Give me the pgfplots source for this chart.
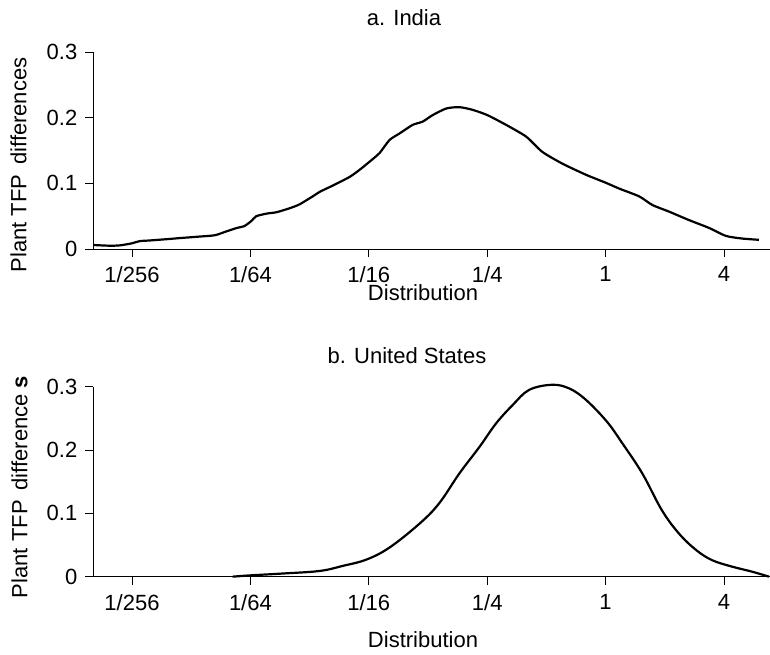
\documentclass[border=0pt]{standalone}
\usepackage{pgfplots}
\pgfplotsset{compat=1.18}
\usepackage{fontspec}
\setmainfont{Liberation Sans}
\pgfplotsset{
  panel/.style={
    scale only axis, width=338.5pt, anchor=south west,
    xmin=-8.659, xmax=2.777, ymin=0, ymax=0.3,
    axis lines*=left, axis line style={line width=0.5pt},
    tick align=outside, major tick length=4pt,
    tick style={line width=0.5pt, black},
    xtick={-8,-6,-4,-2,0,2}, xticklabels={1/256,1/64,1/16,1/4,1,4},
    ytick={0,0.1,0.2,0.3}, yticklabels={0,0.1,0.2,0.3},
    scaled y ticks=false, clip=false,
    xticklabel style={yshift=-1pt},
  }
}
\begin{document}
\fontsize{11}{13}\selectfont
\begin{tikzpicture}[font=\fontsize{11}{13}\selectfont]
\path[use as bounding box] (0,0) rectangle (385pt,-327pt);
\begin{axis}[panel, at={(46.5pt,-124.5pt)}, height=98.5pt]
\addplot[black, line width=1.1pt, smooth, tension=0.4] coordinates {
(-8.64,0.006) (-8.37,0.005) (-8.2,0.0056) (-8.0,0.0087) (-7.87,0.012) (-7.7,0.013)
(-7.41,0.015) (-7.14,0.017) (-6.85,0.019) (-6.6,0.021) (-6.4,0.027) (-6.23,0.032)
(-6.1,0.035) (-5.98,0.043) (-5.9,0.050) (-5.72,0.054) (-5.56,0.056) (-5.34,0.062)
(-5.17,0.068) (-4.95,0.080) (-4.83,0.087) (-4.6,0.097) (-4.32,0.110) (-4.15,0.121)
(-4.0,0.132) (-3.82,0.146) (-3.65,0.166) (-3.48,0.176) (-3.26,0.189) (-3.09,0.194)
(-2.92,0.204) (-2.69,0.214) (-2.47,0.216) (-2.25,0.212) (-2.0,0.204) (-1.68,0.189)
(-1.34,0.171) (-1.07,0.148) (-0.73,0.130) (-0.33,0.113) (0,0.101) (0.23,0.092)
(0.57,0.080) (0.79,0.067) (1.07,0.057) (1.41,0.044) (1.75,0.032) (2.03,0.020)
(2.3,0.016) (2.59,0.014)
};
\end{axis}
\begin{axis}[panel, at={(46.5pt,-288.33pt)}, height=95pt]
\addplot[black, line width=1.1pt, smooth, tension=0.6] coordinates {
(-6.30,0.000) (-6.01,0.002) (-5.45,0.005) (-4.83,0.009) (-4.44,0.017) (-4.04,0.027)
(-3.65,0.046) (-3.14,0.084) (-2.81,0.116) (-2.47,0.163) (-2.13,0.205)
(-1.85,0.242) (-1.57,0.271) (-1.29,0.295) (-0.9,0.303) (-0.61,0.297) (-0.33,0.279)
(0.02,0.245) (0.28,0.211) (0.62,0.163) (0.95,0.105) (1.24,0.068) (1.53,0.042)
(1.8,0.026) (2.13,0.016) (2.47,0.008) (2.76,0.0)
};
\end{axis}
\node at (202pt,-9pt) {a. India};
\node at (203.5pt,-178pt) {b. United States};
\node at (211.5pt,-146.5pt) {Distribution};
\node at (211.5pt,-320pt) {Distribution};
\node[rotate=90] at (9.25pt,-82.5pt) {Plant TFP\, differences};
\node[rotate=90] at (9.75pt,-243.5pt) {Plant TFP\, difference \textbf{s}};
\end{tikzpicture}
\end{document}
